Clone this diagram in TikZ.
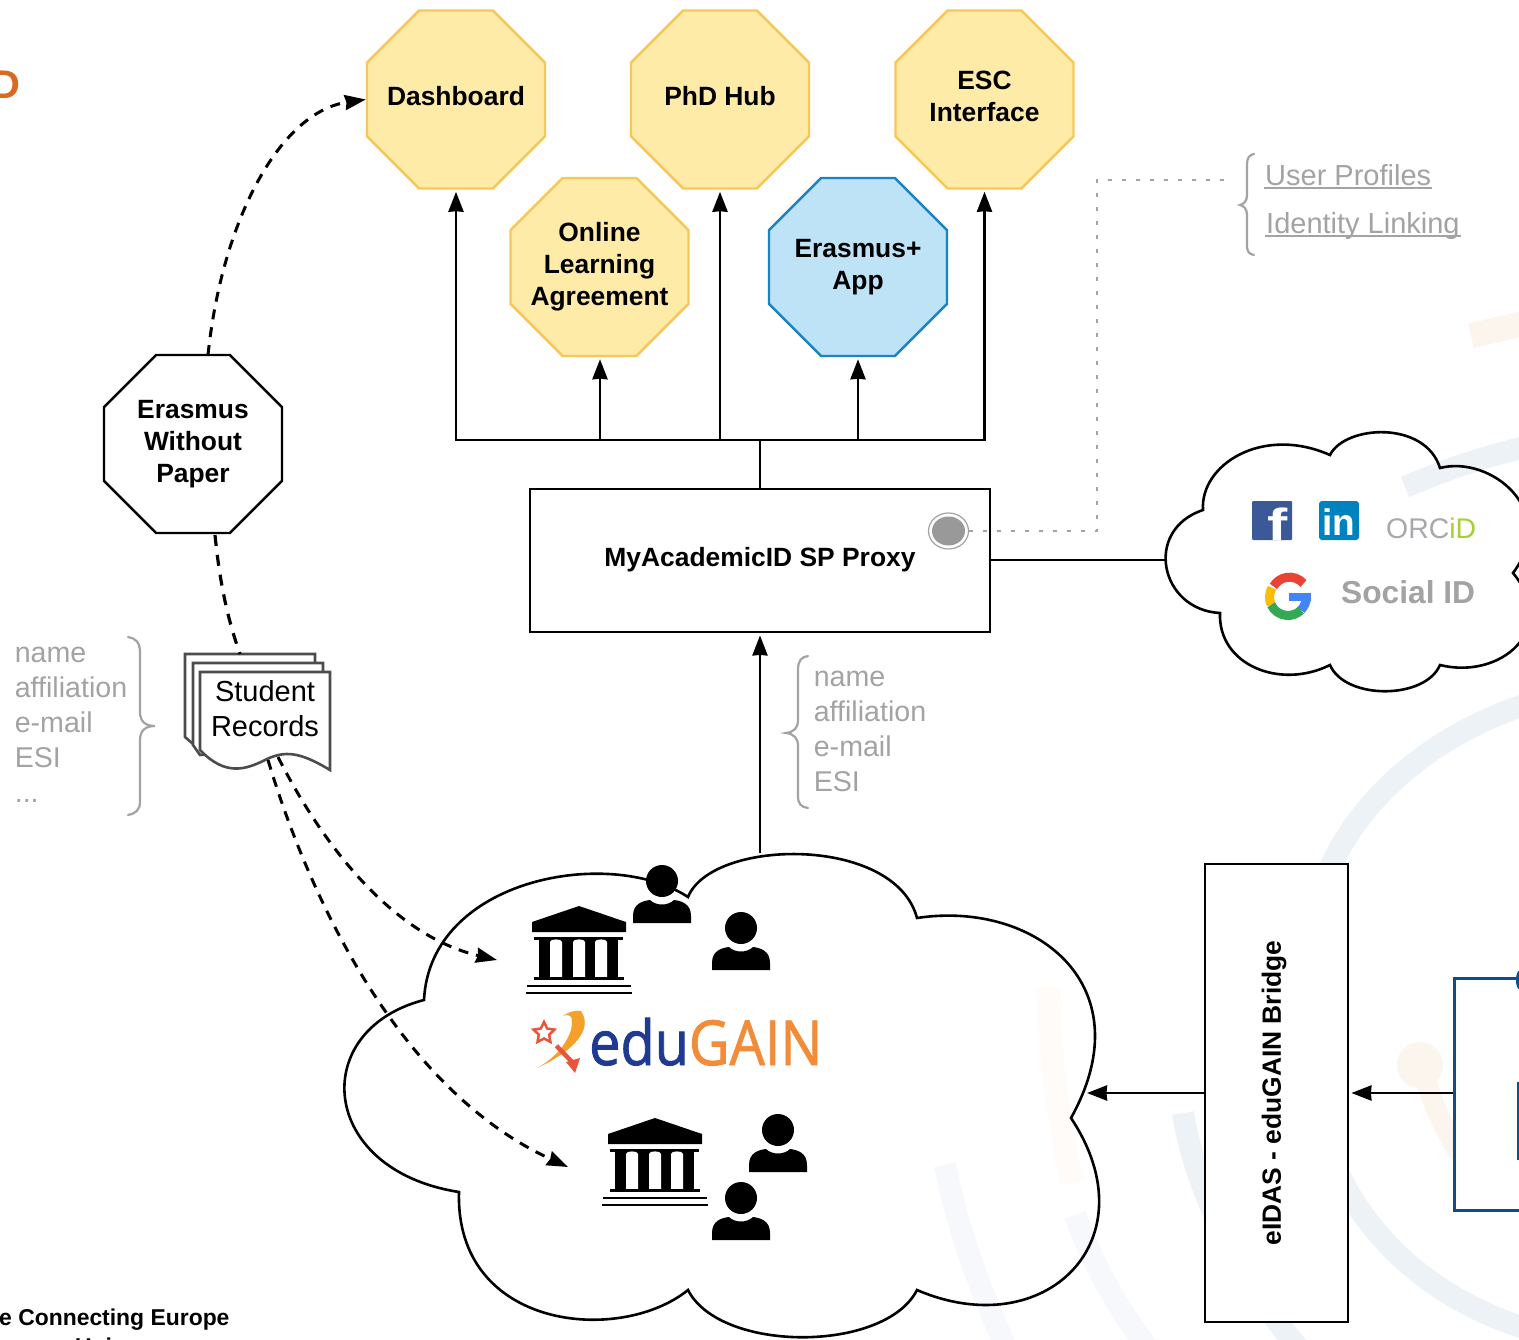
\documentclass[tikz,border=0pt]{standalone}
\usepackage{fontspec}
\setmainfont{Liberation Sans}
\newfontfamily\edufont{Open Sans}[FakeBold=1.4]
\usetikzlibrary{arrows.meta,shapes.geometric}
\definecolor{gtext}{HTML}{A3A3A3}
\definecolor{ybg}{HTML}{FFEBA8}
\definecolor{yln}{HTML}{F9C65A}
\definecolor{bbg}{HTML}{BEE3F6}
\definecolor{bln}{HTML}{1B83BF}
\definecolor{wmb}{HTML}{EDF2F7}
\definecolor{wmo}{HTML}{FCF5EE}
\definecolor{dkblue}{HTML}{0F4C8A}
\definecolor{fbc}{RGB}{59,89,152}
\definecolor{lic}{RGB}{0,130,190}
\definecolor{gred}{RGB}{234,67,53}
\definecolor{gyel}{RGB}{251,188,5}
\definecolor{ggrn}{RGB}{52,168,83}
\definecolor{gblu}{RGB}{66,133,244}
\definecolor{swo}{RGB}{245,160,42}
\definecolor{keyc}{RGB}{232,85,61}
\definecolor{orD}{RGB}{217,106,31}
\newcommand{\cl}[1]{\makebox[0pt]{#1}}
\newcommand{\cu}[1]{\raisebox{3pt}[\height][\depth]{\makebox[0pt]{#1}}}
\tikzset{
  octa/.style={regular polygon,regular polygon sides=8,minimum size=192.7pt,inner sep=0pt,line width=2.4pt,align=center,
    font=\fontsize{26.4}{32}\selectfont\bfseries},
  yocta/.style={octa,draw=yln,fill=ybg},
  bocta/.style={octa,draw=bln,fill=bbg},
  kocta/.style={octa,draw=black,fill=white},
  boxn/.style={draw=black,fill=white,line width=2.8pt,inner sep=0pt,font=\fontsize{26.4}{32}\selectfont\bfseries},
  conn/.style={line width=2.8pt,draw=black},
  arr/.style={conn,-{Stealth[length=20pt,width=15pt,inset=0.5pt]},shorten >=2pt},
  dasharr/.style={line width=3pt,dash pattern=on 10pt off 8pt,-{Stealth[length=21pt,width=15pt,inset=1.5pt]}},
  dots/.style={line width=2.5pt,draw=gtext,dash pattern=on 4pt off 10pt},
  bracegr/.style={line width=2.2pt,draw=gtext,line cap=round},
  graytxt/.style={text=gtext,align=left,inner sep=0pt,font=\fontsize{28.6}{35}\selectfont},
  linktxt/.style={text=gtext,inner sep=0pt,anchor=west,font=\fontsize{29}{34}\selectfont},
  cloudln/.style={line width=2.6pt,draw=black,line join=miter},
  wmblue/.style={draw=wmb,line width=22pt},
  wmor/.style={draw=wmo,line width=23pt},
  doc/.style={draw=black!70,fill=white,line width=2.6pt},
  bank/.pic={
    \fill (0,0)--(47,16)--(47,26)--(-47,26)--(-47,16)--cycle;
    \fill (-45,31) rectangle (44,34);
    \fill (-40,34) rectangle (39,72);
    \fill[white] (-29,72)--(-29,36) .. controls (-29,32.5) and (-17,32.5) .. (-17,36)--(-17,72)--cycle;
    \fill[white] (-6,72)--(-6,36) .. controls (-6,32.5) and (6,32.5) .. (6,36)--(6,72)--cycle;
    \fill[white] (16,72)--(16,36) .. controls (16,32.5) and (28,32.5) .. (28,36)--(28,72)--cycle;
    \fill (-45,71) rectangle (45,74);
    \draw[line width=2.5pt] (-52,80)--(52,80);
    \draw[line width=2.5pt] (-53,87)--(53,87);
  },
  person/.pic={
    \fill (0,0) circle [radius=16];
    \fill (-29,42)--(-29,35) .. controls (-29,23) and (-20,20) .. (-12,19) .. controls (-6,25) and (6,25) .. (12,19) .. controls (20,20) and (29,23) .. (29,35)--(29,42)--cycle;
  }
}
\begin{document}
\begin{tikzpicture}[x=1pt,y=-1pt]
\path[use as bounding box] (0,0) rectangle (1519,1340);
\clip (0,0) rectangle (1519,1340);
\fill[white] (0,0) rectangle (1519,1340);
% watermark
\draw[wmblue] (1530,703) .. controls (1430,735) and (1360,800) .. (1330,868) .. controls (1290,960) and (1295,1100) .. (1350,1195) .. controls (1390,1260) and (1450,1305) .. (1530,1330);
\draw[wmblue] (1183,1113) .. controls (1195,1190) and (1240,1280) .. (1300,1350);
\draw[wmblue,draw=wmb!50] (945,1165) .. controls (960,1240) and (985,1300) .. (1005,1345);
\draw[wmblue,draw=wmb!50] (1075,1215) .. controls (1095,1270) and (1125,1320) .. (1150,1350);
\draw[wmblue] (1405,487) .. controls (1445,470) and (1480,458) .. (1525,447);
\draw[wmor,draw=wmo!40] (1048,987) .. controls (1050,1060) and (1060,1130) .. (1072,1183);
\draw[wmor,line width=25pt] (1471,336) -- (1525,323);
\fill[wmo] (1420,1065) circle [radius=23];
\draw[wmor,line width=20pt] (1425,1075) .. controls (1432,1105) and (1445,1130) .. (1460,1155);
% clouds
\draw[cloudln] (1203,510) .. controls (1200,465) and (1262,425) .. (1330,455)
  .. controls (1345,425) and (1425,420) .. (1440,468)
  .. controls (1490,455) and (1560,510) .. (1513,573)
  .. controls (1560,630) and (1500,680) .. (1440,665)
  .. controls (1425,700) and (1345,700) .. (1330,665)
  .. controls (1280,690) and (1218,665) .. (1220,613)
  .. controls (1160,610) and (1143,530) .. (1203,510) -- cycle;
\coordinate (socialin) at (1165,560);
\draw[cloudln] (424,1000) .. controls (430,878) and (610,846) .. (688,897)
  .. controls (712,838) and (895,835) .. (917,918)
  .. controls (1035,900) and (1145,985) .. (1071,1118)
  .. controls (1152,1240) and (1045,1345) .. (917,1290)
  .. controls (885,1353) and (720,1353) .. (688,1290)
  .. controls (620,1345) and (455,1330) .. (459,1192)
  .. controls (318,1170) and (308,1030) .. (424,1000) -- cycle;
\coordinate (gaintop) at (760,853);
\coordinate (gainright) at (1085,1093);
% octagons
\node[yocta] (dash) at (456,99.5) {\cu{Dashboard}};
\node[yocta] (phd) at (720,99.5) {\cu{PhD Hub}};
\node[yocta] (esc) at (984.5,99.5) {\cu{ESC}\\\cu{Interface}};
\node[yocta] (ola) at (599.5,267) {\cl{Online}\\\cl{Learning}\\\cl{Agreement}};
\node[bocta] (app) at (858,267) {\cl{Erasmus+}\\\cl{App}};
\node[kocta] (ewp) at (193,444) {\cl{Erasmus}\\\cl{Without}\\\cl{Paper}};
% proxy
\node[boxn,minimum width=460pt,minimum height=143pt] (proxy) at (760,560.5) {\raisebox{1pt}[\height][\depth]{MyAcademicID SP Proxy}};
\node[draw=gtext,fill=white,line width=1.2pt,ellipse,minimum width=40pt,minimum height=36pt,inner sep=0pt] (ring) at (948.5,531) {};
\node[fill=black!40,ellipse,minimum width=33pt,minimum height=29pt,inner sep=0pt] (ringin) at (948.5,531) {};
% bus
\coordinate (bus) at (760,440);
\coordinate (b1) at (456,440);
\coordinate (b2) at (600,440);
\coordinate (b3) at (720,440);
\coordinate (b4) at (858,440);
\coordinate (b5) at (984.5,440);
\draw[conn] (proxy.north) -- (bus);
\draw[conn,line cap=rect] (b1) -- (b5);
\draw[arr] (b1) -- (dash.south);
\draw[arr] (b2) -- (ola.south -| b2);
\draw[arr] (b3) -- (phd.south);
\draw[arr] (b4) -- (app.south);
\draw[arr] (b5) -- (esc.south);
\draw[arr] (gaintop) -- (proxy.south);
\draw[conn] (proxy.east |- socialin) -- (socialin);
% dotted link
\coordinate (dk1) at (1097,531);
\coordinate (dk2) at (1097,180);
\coordinate (dk3) at (1230,180);
\draw[dots] (ring.east) -- (dk1) -- (dk2) -- (dk3);
% records
\coordinate (rt) at (240,654);
\draw[doc] (185,654) -- (315,654) -- (315,740) -- (200,750) -- (185,737) -- cycle;
\draw[doc] (193,663) -- (323,663) -- (323,745) -- (200,755) -- (193,745) -- cycle;
\draw[doc] (200,672) -- (330,672) -- (330,770) .. controls (300,752) and (285,750) .. (265,760) .. controls (245,770) and (225,776) .. (200,750) -- cycle;
\node[inner sep=0pt,align=center,font=\fontsize{29}{35}\selectfont] (rec) at (265,709) {Student\\Records};
\coordinate (rb1) at (278,757);
\coordinate (rb2) at (268,760);
\coordinate (e1) at (497,960);
\coordinate (e2) at (568,1167);
\coordinate (ewpout) at (208,355);
\draw[dasharr] (ewpout) .. controls (222,220) and (280,112) .. (dash.west);
\draw[line width=3.2pt,dash pattern=on 11pt off 9pt] (215,535) .. controls (220,585) and (228,620) .. (rt);
\draw[dasharr] (rb1) .. controls (320,840) and (390,935) .. (e1);
\draw[dasharr] (rb2) .. controls (310,900) and (400,1090) .. (e2);
% gray lists
\node[graytxt] (ll) at (71,725) {name\\affiliation\\e-mail\\ESI\\...};
\node[graytxt] (rl) at (870,731) {name\\affiliation\\e-mail\\ESI};
\draw[bracegr] (128,637) .. controls (135,638) and (140,642) .. (140,652) -- (140,712) .. controls (140,722) and (146,726) .. (155,726) .. controls (146,726) and (140,730) .. (140,740) -- (140,802) .. controls (140,810) and (135,814) .. (128,815);
\draw[bracegr] (808,656) .. controls (801,657) and (798,661) .. (798,670) -- (798,720) .. controls (798,728) and (794,732) .. (786,733) .. controls (794,734) and (798,738) .. (798,746) -- (798,796) .. controls (798,804) and (801,807) .. (808,808);
\draw[bracegr] (1254,154) .. controls (1249,155) and (1247,158) .. (1247,165) -- (1247,195) .. controls (1247,201) and (1244,204) .. (1240,205) .. controls (1244,206) and (1247,209) .. (1247,215) -- (1247,245) .. controls (1247,252) and (1249,254) .. (1254,255);
\node[linktxt] (up) at (1265,175) {User Profiles};
\node[linktxt] (il) at (1266,226) {Identity Linking};
\draw[line width=1.6pt,draw=gtext] (1264,188) -- (1432,188);
\draw[line width=1.6pt,draw=gtext] (1265,236) -- (1461,236);
% social logos
\fill[rounded corners=1pt,fbc] (1252,501) rectangle (1292,540);
\node[text=white,inner sep=0pt,xscale=1.35,transform shape,font=\fontsize{45}{45}\selectfont\bfseries,anchor=base] (fb) at (1278,540) {f};
\fill[rounded corners=3pt,lic] (1319,501) rectangle (1359,540);
\node[text=white,inner sep=0pt,font=\fontsize{37}{37}\selectfont\bfseries,anchor=base] (li) at (1339,535) {in};
\node[inner sep=0pt,anchor=base west,font=\fontsize{28.4}{30}\selectfont] (orc) at (1386,538) {\textcolor[HTML]{A8A9AD}{ORC}\textcolor[HTML]{A6CE39}{iD}};
\begin{scope}[shift={(1288,597)}]
  \draw[line width=9pt,draw=gred] (15.5,-13.5) arc (-41:-150:18.5);
  \draw[line width=9pt,draw=gyel] (-16,-9.2) arc (-150:-205:18.5);
  \draw[line width=9pt,draw=ggrn] (-16.8,7.8) arc (-205:-315:18.5);
  \draw[line width=9pt,draw=gblu] (13,13) arc (-315:-360:18.5);
  \fill[gblu] (1,-4) rectangle (23,4);
\end{scope}
\node[text=gtext,inner sep=0pt,anchor=base west,font=\fontsize{31.7}{34}\selectfont\bfseries] (soc) at (1341,603) {Social ID};
% eduGAIN content
\pic at (579,906) {bank};
\pic at (655,1118) {bank};
\pic at (662,881) {person};
\pic at (741,928) {person};
\pic at (778,1130) {person};
\pic at (741,1198) {person};
\node[inner sep=0pt,anchor=base west,xscale=0.9,transform shape,font=\edufont\fontsize{62}{62}\selectfont] (edu) at (589,1065) {\textcolor[HTML]{1F3A93}{edu}\textcolor[HTML]{F28C38}{GAIN}};
\fill[swo] (537,1068) .. controls (572,1052) and (594,1030) .. (581,1011) .. controls (575,1010) and (568,1012) .. (563,1016) .. controls (570,1013) and (574,1016) .. (571,1030) .. controls (566,1046) and (552,1060) .. (537,1068) -- cycle;
\node[star,star points=5,star point ratio=2,draw=keyc,line width=2.5pt,fill=white,minimum size=22pt,inner sep=0pt] (keystar) at (544,1033) {};
\coordinate (keyend) at (576,1066);
\draw[line width=4.5pt,draw=keyc,shorten <=7pt] (keystar) -- (keyend);
\fill[keyc] (566,1062) -- (580,1058) -- (575,1073) -- cycle;
% bridge
\node[boxn,minimum width=143pt,minimum height=458pt] (bridge) at (1276.5,1093) {};
\node[rotate=90,inner sep=0pt,font=\fontsize{26.4}{32}\selectfont\bfseries] (bridgetxt) at (1274,1093) {eIDAS - eduGAIN Bridge};
\draw[arr] (bridge.west) -- (gainright);
% blue box at edge
\node[draw=dkblue,fill=white,line width=3pt,minimum width=120pt,minimum height=232pt,inner sep=0pt,anchor=north west] (eid) at (1452.5,976.5) {};
\fill[dkblue] (1519,989) arc (90:270:3 and 9) -- cycle;
\fill[dkblue] (1517,1082) rectangle (1519,1160);
\draw[arr] (eid.west |- bridge.east) -- (bridge.east);
% clipped texts
\node[text=orD,inner sep=0pt,anchor=base east,font=\fontsize{40}{40}\selectfont\bfseries] (dd) at (21,99) {D};
\node[inner sep=0pt,anchor=base west,font=\fontsize{22.9}{28}\selectfont\bfseries] (cef) at (-1,1325) {e Connecting Europe};
\node[inner sep=0pt,anchor=base west,font=\fontsize{22.9}{28}\selectfont\bfseries] (eu) at (-37,1354) {European Union};
\end{tikzpicture}
\end{document}
